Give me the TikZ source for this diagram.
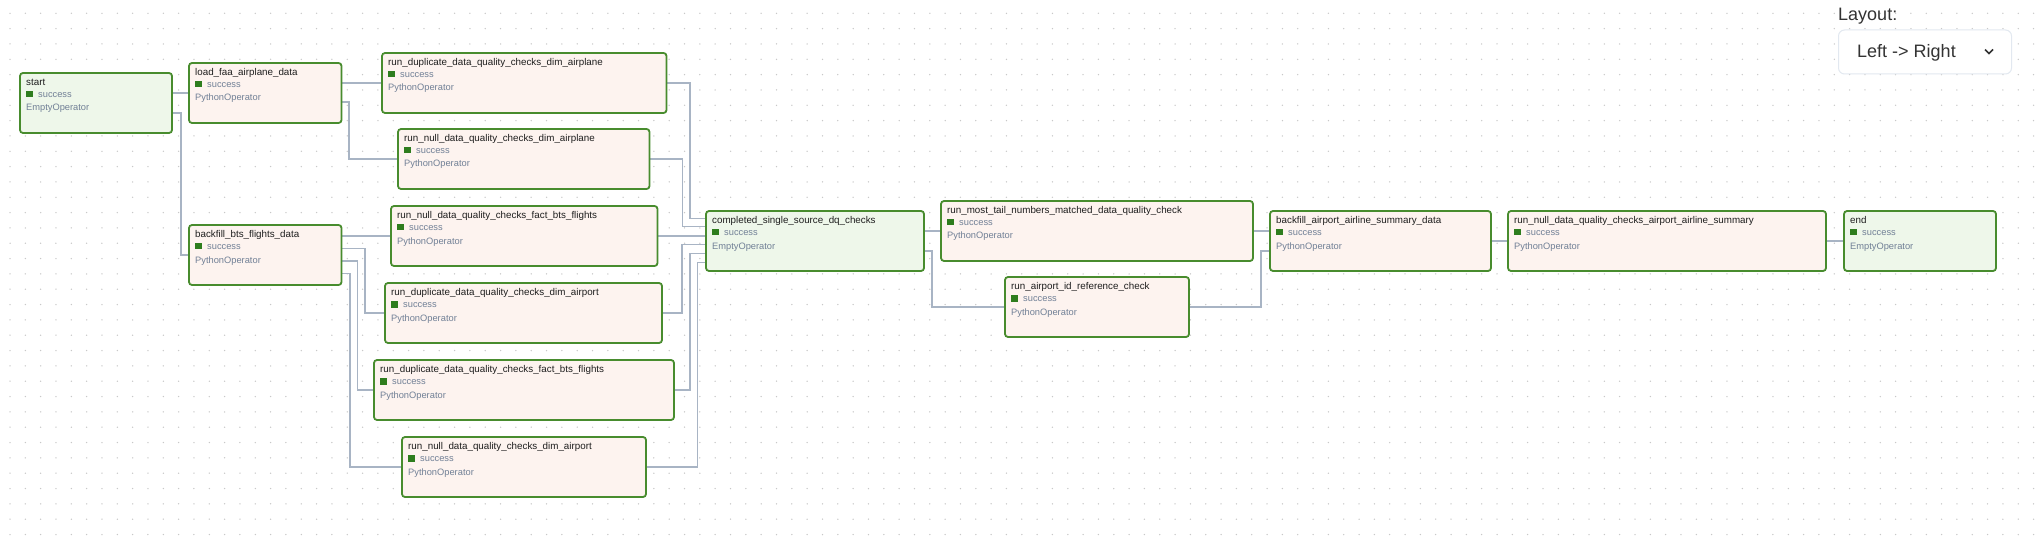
\documentclass[tikz,border=0pt]{standalone}
\usepackage{fontspec}
\setmainfont{Liberation Sans}
\usepackage{tikz}
\usetikzlibrary{backgrounds}
\usepackage{xcolor}

\definecolor{boxgreen}{RGB}{72,140,46}
\definecolor{stategreen}{RGB}{46,125,30}
\definecolor{emptyfill}{RGB}{238,247,234}
\definecolor{pyfill}{RGB}{253,243,239}
\definecolor{titlecol}{RGB}{30,30,30}
\definecolor{subcol}{RGB}{113,128,150}
\definecolor{linecol}{RGB}{168,180,196}
\definecolor{dotgray}{RGB}{200,200,200}
\definecolor{selborder}{RGB}{226,232,240}
\definecolor{laytext}{RGB}{51,51,51}

\newcommand{\dagtask}[6]{%
  \node[#2, minimum width=#4] (#1) at #3 {};
  \node[tasktitle] (#1-t) at (#1.north west) {#5};
  \node[taskstate] (#1-s) at (#1.north west) {\textcolor{stategreen}{\rule{6.7pt}{6.7pt}}\hspace{5.3pt}success};
  \node[taskop] (#1-o) at (#1.north west) {#6};
}

\begin{document}
\begin{tikzpicture}[x=1pt,y=-1pt,
    taskbox/.style={rectangle, rounded corners=3pt, draw=boxgreen, line width=1.8pt,
      anchor=north west, minimum height=60pt, inner sep=0pt, outer sep=0pt},
    emptybox/.style={taskbox, fill=emptyfill},
    pybox/.style={taskbox, fill=pyfill},
    tasktitle/.style={anchor=base west, inner sep=0pt, xshift=6pt, yshift=-12.3pt,
      font=\fontsize{9.8}{11}\selectfont, text=titlecol},
    taskstate/.style={anchor=base west, inner sep=0pt, xshift=6pt, yshift=-24.5pt,
      font=\fontsize{9.3}{11}\selectfont, text=subcol},
    taskop/.style={anchor=base west, inner sep=0pt, xshift=6pt, yshift=-38pt,
      font=\fontsize{9.3}{11}\selectfont, text=subcol},
    depline/.style={draw=linecol, line width=1.5pt}]
  \useasboundingbox (0,0) rectangle (2040,548);

  % tasks
  \dagtask{starttask}{emptybox}{(20,73)}{152pt}{start}{EmptyOperator}
  \dagtask{loadfaa}{pybox}{(189,63)}{152.5pt}{load\_faa\_airplane\_data}{PythonOperator}
  \dagtask{dupairplane}{pybox}{(382,53)}{284.5pt}{run\_duplicate\_data\_quality\_checks\_dim\_airplane}{PythonOperator}
  \dagtask{nullairplane}{pybox}{(398,129)}{251.5pt}{run\_null\_data\_quality\_checks\_dim\_airplane}{PythonOperator}
  \dagtask{backfillbts}{pybox}{(189,225)}{152.5pt}{backfill\_bts\_flights\_data}{PythonOperator}
  \dagtask{nullfactbts}{pybox}{(391,206)}{266.5pt}{run\_null\_data\_quality\_checks\_fact\_bts\_flights}{PythonOperator}
  \dagtask{dupairport}{pybox}{(385,283)}{277pt}{run\_duplicate\_data\_quality\_checks\_dim\_airport}{PythonOperator}
  \dagtask{dupfactbts}{pybox}{(374,360)}{300pt}{run\_duplicate\_data\_quality\_checks\_fact\_bts\_flights}{PythonOperator}
  \dagtask{nullairport}{pybox}{(402,437)}{244pt}{run\_null\_data\_quality\_checks\_dim\_airport}{PythonOperator}
  \dagtask{completed}{emptybox}{(706,211)}{218pt}{completed\_single\_source\_dq\_checks}{EmptyOperator}
  \dagtask{mosttail}{pybox}{(941,201)}{312pt}{run\_most\_tail\_numbers\_matched\_data\_quality\_check}{PythonOperator}
  \dagtask{airportid}{pybox}{(1005,277)}{184pt}{run\_airport\_id\_reference\_check}{PythonOperator}
  \dagtask{backfillsummary}{pybox}{(1270,211)}{221pt}{backfill\_airport\_airline\_summary\_data}{PythonOperator}
  \dagtask{nullsummary}{pybox}{(1508,211)}{318pt}{run\_null\_data\_quality\_checks\_airport\_airline\_summary}{PythonOperator}
  \dagtask{endtask}{emptybox}{(1844,211)}{152pt}{end}{EmptyOperator}

  % layout selector
  \node[anchor=base west, inner sep=0pt, font=\fontsize{18}{20}\selectfont, text=laytext] (layoutlbl) at (1838,20.7) {Layout:};
  \node[rectangle, rounded corners=6pt, draw=selborder, line width=1pt, fill=white,
    anchor=north west, minimum width=173pt, minimum height=44pt] (layoutsel) at (1838,29.5) {};
  \node[anchor=base west, inner sep=0pt, font=\fontsize{18}{20}\selectfont, text=laytext] (layoutval) at (1857,57.3) {Left -> Right};
  \draw[laytext, line width=1.5pt] (1985,49.5) -- (1989,53.5) -- (1993,49.5);

  \begin{scope}[on background layer]
    \fill[white] (0,0) rectangle (2040,548);
    \foreach \i in {0,...,132}
      \foreach \j in {0,...,34}
        \fill[dotgray] (10+15.33*\i,13.3+15.33*\j) circle (0.75);

    % dependencies
    \draw[depline] (starttask.east |- loadfaa.west) -- (loadfaa.west);
    \draw[depline] ([yshift=-10pt]starttask.east) -- ++(9,0) |- (backfillbts.west);
    \draw[depline] (loadfaa.east |- dupairplane.west) -- (dupairplane.west);
    \draw[depline] ([yshift=-9pt]loadfaa.east) -- ++(7.5,0) |- (nullairplane.west);
    \draw[depline] (backfillbts.east |- nullfactbts.west) -- (nullfactbts.west);
    \draw[depline] ([yshift=6.7pt]backfillbts.east) -- ++(23.3,0) |- (dupairport.west);
    \draw[depline] ([yshift=-6pt]backfillbts.east) -- ++(16,0) |- (dupfactbts.west);
    \draw[depline] ([yshift=-18.3pt]backfillbts.east) -- ++(8.3,0) |- (nullairport.west);

    \draw[depline] (dupairplane.east) -| ([xshift=-16pt,yshift=22.3pt]completed.west) -- ([yshift=22.3pt]completed.west);
    \draw[depline] (nullairplane.east) -| ([xshift=-23.7pt,yshift=14.3pt]completed.west) -- ([yshift=14.3pt]completed.west);
    \draw[depline] (nullfactbts.east) -- (nullfactbts.east -| completed.west);
    \draw[depline] (dupairport.east) -| ([xshift=-24pt,yshift=-3.3pt]completed.west) -- ([yshift=-3.3pt]completed.west);
    \draw[depline] (dupfactbts.east) -| ([xshift=-16pt,yshift=-12.3pt]completed.west) -- ([yshift=-12.3pt]completed.west);
    \draw[depline] (nullairport.east) -| ([xshift=-8.3pt,yshift=-21.3pt]completed.west) -- ([yshift=-21.3pt]completed.west);

    \draw[depline] (completed.east |- mosttail.west) -- (mosttail.west);
    \draw[depline] ([yshift=-10pt]completed.east) -- ++(8,0) |- (airportid.west);
    \draw[depline] (mosttail.east) -- (mosttail.east -| backfillsummary.west);
    \draw[depline] (airportid.east) -| ([xshift=-9pt,yshift=-10pt]backfillsummary.west) -- ([yshift=-10pt]backfillsummary.west);
    \draw[depline] (backfillsummary.east) -- (nullsummary.west);
    \draw[depline] (nullsummary.east) -- (endtask.west);
  \end{scope}
\end{tikzpicture}
\end{document}
